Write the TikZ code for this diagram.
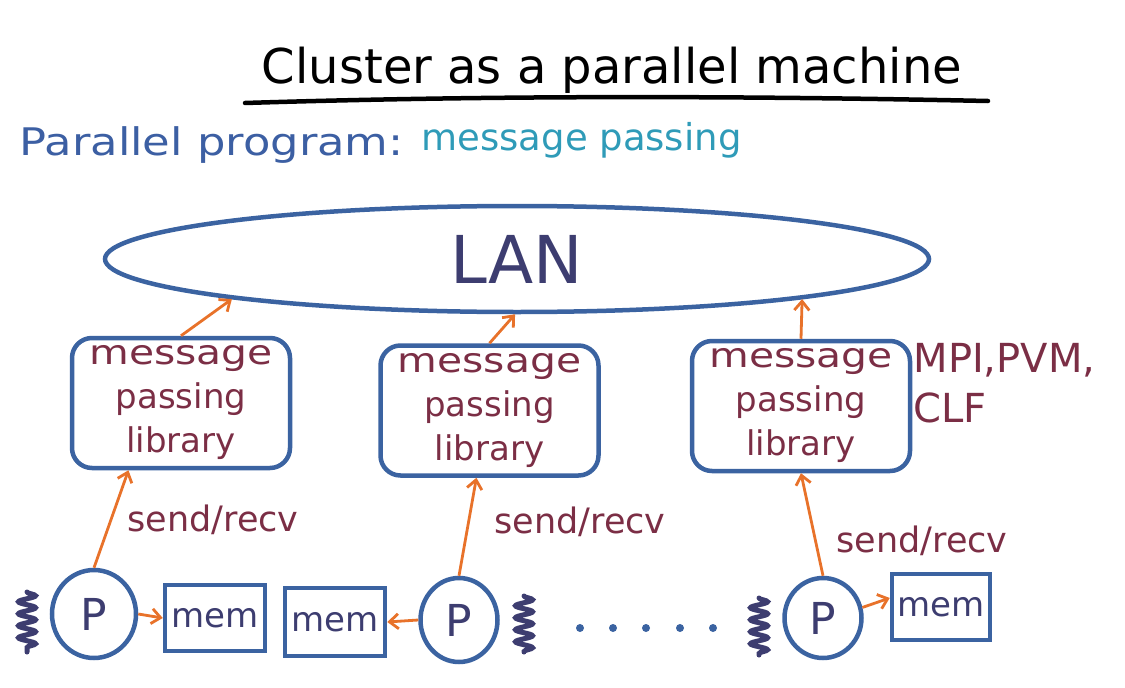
\documentclass[tikz,border=0pt]{standalone}
\usepackage{fontspec}
\setmainfont{DejaVu Sans}
\usetikzlibrary{shapes.geometric,decorations.pathmorphing,arrows.meta}

\definecolor{edgeblue}{HTML}{3B63A1}
\definecolor{navy}{HTML}{3D3D70}
\definecolor{maroon}{HTML}{7B2E45}
\definecolor{flow}{HTML}{E8722A}
\definecolor{progblue}{HTML}{3C5FA3}
\definecolor{teal}{HTML}{2F9BB8}

\newcommand{\fs}[1]{\fontsize{#1}{#1}\selectfont}
\newcommand{\wide}[1]{\scalebox{1.2}[1]{#1}}

\tikzset{
  libbox/.style={draw=edgeblue, line width=4.5pt, rounded corners=20pt,
    minimum width=218pt, minimum height=130pt, align=center,
    text=maroon, font=\fontsize{34}{44}\selectfont},
  membox/.style={draw=edgeblue, line width=4.5pt, minimum width=100pt,
    minimum height=66pt, text=navy, font=\fs{34}},
  proc/.style={draw=edgeblue, line width=4.5pt, ellipse, text=navy, font=\fs{44}},
  flowarrow/.style={draw=flow, line width=2.8pt,
    -{Straight Barb[length=9pt,width=15pt,line width=2.8pt]}},
  label/.style={text=maroon, font=\fs{35}},
  squiggle/.style={draw=navy, line width=5pt, line cap=round,
    decorate, decoration={snake, amplitude=8.5pt, segment length=12pt}},
  dot/.style={fill=edgeblue, circle, inner sep=0pt, minimum size=8pt}
}

\begin{document}
\begin{tikzpicture}[x=1pt,y=-1pt]
\useasboundingbox (0,0) rectangle (1125,688);

% heading
\node (title) at (612,70) {\fs{48}Cluster as a parallel machine};
\draw[line width=4.5pt, line cap=round] (245,103) .. controls (500,95) and (750,96) .. (988,101);

\node[anchor=west] (prog) at (16,145) {\fs{38}\color{progblue}\scalebox{1.18}[1]{Parallel program:}};
\node[anchor=west] (model) at (418,140) {\fs{37}\color{teal}message passing};

% network
\node[draw=edgeblue, line width=4.5pt, ellipse, minimum width=824pt, minimum height=106pt,
      text=navy, font=\fs{66}] (lan) at (517,259) {LAN};

% message passing libraries
\node[libbox] (lib1) at (181,403) {\wide{message}\\passing\\library};
\node[libbox] (lib2) at (489.5,410.5) {\wide{message}\\passing\\library};
\node[libbox] (lib3) at (801,406) {\wide{message}\\passing\\library};

\node[label, anchor=west, font=\fs{40}] (mpi) at (910,360) {MPI,PVM,};
\node[label, anchor=west, font=\fs{40}] (clf) at (910,408) {CLF};

\draw[flowarrow] (lib1.north) -- (lan.188);
\draw[flowarrow] (lib2.north) -- (lan.268);
\draw[flowarrow] (lib3.north) -- (lan.352.3);

% processors and memories
\node[proc, minimum width=84pt, minimum height=88pt] (p1) at (94,614) {P};
\node[proc, minimum width=77pt, minimum height=84pt] (p2) at (459,620) {P};
\node[proc, minimum width=77pt, minimum height=80pt] (p3) at (823,618) {P};

\node[membox] (mem1) at (215,618) {mem};
\node[membox, minimum height=68pt] (mem2) at (335,622) {mem};
\node[membox, minimum width=98pt] (mem3) at (941,607) {mem};

\draw[flowarrow] (p1.east) -- (mem1.west);
\draw[flowarrow] (p2.west) -- (mem2.east);
\draw[flowarrow] (p3.15) -- (mem3.170);

\draw[flowarrow] (p1.north) -- (lib1.232);
\draw[flowarrow] (p2.north) -- (lib2.259);
\draw[flowarrow] (p3.north) -- (lib3.south);

\node[label] (sr1) at (213,520) {send/recv};
\node[label] (sr2) at (580,522) {send/recv};
\node[label] (sr3) at (922,541) {send/recv};

% springs beside the processors
\draw[squiggle] (27,592) -- (27,652);
\draw[squiggle] (524,596) -- (524,652);
\draw[squiggle] (759,598) -- (759,655);

% ellipsis between nodes
\foreach \x/\n in {580/d1,613/d2,646/d3,680/d4,713/d5}
  \node[dot] (\n) at (\x,628) {};
\end{tikzpicture}
\end{document}
